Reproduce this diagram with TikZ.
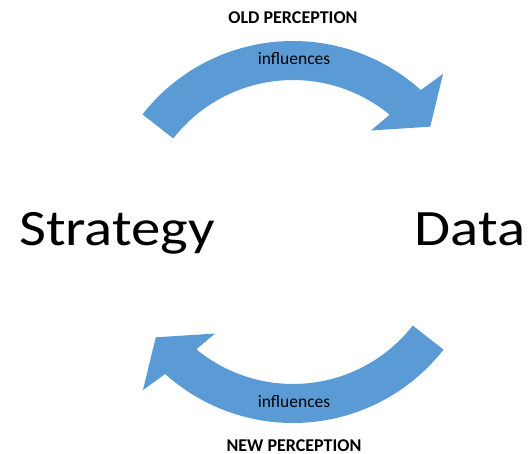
\documentclass[tikz,border=0pt]{standalone}
\usepackage{fontspec}
\setmainfont{Carlito}
\usetikzlibrary{calc}
\definecolor{arrowblue}{HTML}{5B9BD5}
\tikzset{
  bigword/.style={inner sep=0pt, anchor=base, font=\fontsize{51}{60}\selectfont},
  caption/.style={inner sep=0pt, anchor=base, font=\fontsize{18}{22}\selectfont\bfseries},
  arrowlabel/.style={inner sep=0pt, anchor=base, font=\fontsize{17.5}{21}\selectfont},
  curvedarrow/.style={fill=arrowblue, draw=none},
}
% curved block arrow, drawn around the origin with y pointing up
\newcommand{\curvedblockarrow}{%
  (142:191) arc[start angle=142, end angle=48, radius=191]
  -- (46.5:218) -- (37.5:173) -- (52.5:128) -- (50.5:152)
  arc[start angle=50.5, end angle=142, radius=152] -- cycle}
\begin{document}
\begin{tikzpicture}[x=1pt, y=-1pt]
  \useasboundingbox (0,0) rectangle (529,454);
  \coordinate (hub) at (293,232);

  % upper arrow, running clockwise from Strategy to Data
  \begin{scope}[shift={(hub)}, yscale=-1]
    \fill[curvedarrow] \curvedblockarrow;
  \end{scope}
  % lower arrow, the same shape turned half a turn
  \begin{scope}[shift={(hub)}, yscale=-1, rotate=180]
    \fill[curvedarrow] \curvedblockarrow;
  \end{scope}

  \node[bigword] (strategy) at (117,245) {\scalebox{1.15}[1]{Strategy}};
  \node[bigword] (data) at (470,245) {\scalebox{1.15}[1]{Data}};

  \node[caption] (oldp) at (293,23.5) {OLD PERCEPTION};
  \node[arrowlabel] (inftop) at (294,65) {influences};
  \node[arrowlabel] (infbot) at (294,407) {influences};
  \node[caption] (newp) at (294,451) {NEW PERCEPTION};
\end{tikzpicture}
\end{document}
